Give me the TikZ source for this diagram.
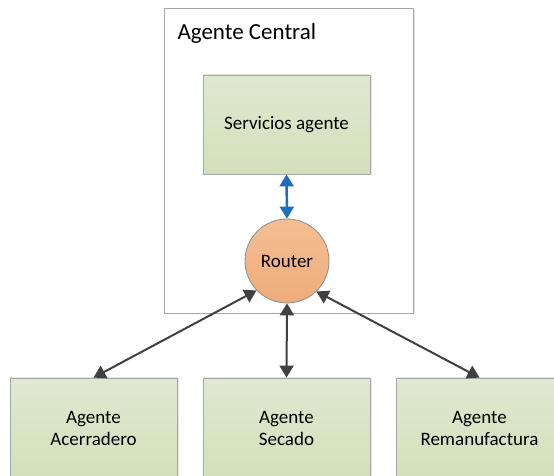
\documentclass[tikz,border=0pt]{standalone}
\usepackage{fontspec}
\setmainfont{Carlito}
\usetikzlibrary{arrows.meta,shadows}
\definecolor{verdeA}{RGB}{223,232,208}
\definecolor{verdeB}{RGB}{212,224,188}
\definecolor{naranjaA}{RGB}{245,190,148}
\definecolor{naranjaB}{RGB}{238,172,122}
\definecolor{azul}{RGB}{30,110,192}
\definecolor{gris}{RGB}{64,64,64}
\tikzset{
  caja/.style={draw=black!35, line width=0.8pt, top color=verdeA, bottom color=verdeB,
    minimum width=167pt, align=center, font=\fontsize{19}{22}\selectfont,
    drop shadow={shadow xshift=1.5pt, shadow yshift=-1.5pt, opacity=0.25, fill=black!40}},
  marco/.style={draw=black!35, line width=0.8pt, fill=white, minimum width=249pt, minimum height=305pt,
    drop shadow={shadow xshift=1.5pt, shadow yshift=-1.5pt, opacity=0.25, fill=black!40}},
  enlace/.style={gris, line width=2pt, {Triangle[width=14pt,length=12pt]}-{Triangle[width=14pt,length=12pt]}},
}
\begin{document}
\begin{tikzpicture}[x=1pt, y=1pt, line join=round]
	\useasboundingbox (0,0) rectangle (554,476);
	\clip (0,0) rectangle (554,476);
	\node[marco] (central) at (288.5,315.5) {};
	\node[anchor=base west, font=\fontsize{23}{27}\selectfont] (titulo) at (174,436) {Agente Central};
	\node[caja, minimum height=99pt] (servicios) at (286.5,351.5) {Servicios agente};
	\node[circle, draw=black!45, line width=0.8pt, top color=naranjaA, bottom color=naranjaB, minimum size=84pt,
		font=\fontsize{19}{22}\selectfont] (router) at (287,215) {Router};
	%===
	\node[caja, minimum height=100pt] (acerradero) at (93.5,48) {Agente\\Acerradero};
	\node[caja, minimum height=100pt] (secado) at (286.5,48) {Agente\\Secado};
	\node[caja, minimum height=100pt] (remanufactura) at (479.5,48) {Agente\\Remanufactura};
	%===
	\draw[azul, line width=2.5pt, {Triangle[width=14pt,length=12pt]}-{Triangle[width=14pt,length=12pt]}] (servicios.south)--(router.north);
	\draw[enlace] (router.224)--(acerradero.north);
	\draw[enlace] (router.south)--(secado.north);
	\draw[enlace] (router.-46)--(remanufactura.north);
\end{tikzpicture}
\end{document}
